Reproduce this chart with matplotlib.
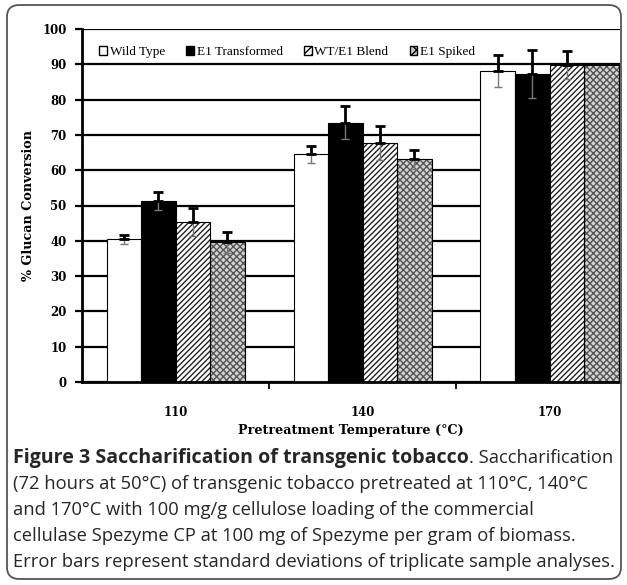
import matplotlib
matplotlib.use("Agg")
import matplotlib.pyplot as plt
import numpy as np
from matplotlib.patches import FancyBboxPatch, Rectangle

categories = ["110", "140", "170"]
series_names = ["Wild Type", "E1 Transformed", "WT/E1 Blend", "E1 Spiked"]
wild_type = [40.4, 64.5, 88.1]
e1_transformed = [51.3, 73.5, 87.3]
blend = [45.4, 67.6, 89.8]
spiked = [39.6, 63.1, 89.8]
wild_type_err = [1.3, 2.4, 4.4]
e1_transformed_err = [2.6, 4.8, 6.8]
blend_err = [3.9, 4.8, 4.1]
spiked_err = [3.0, 2.7, 0.0]
yticks = list(range(0, 101, 10))

values = [wild_type, e1_transformed, blend, spiked]
errors = [wild_type_err, e1_transformed_err, blend_err, spiked_err]

W, H = 627, 585
fig = plt.figure(figsize=(W / 100, H / 100), dpi=100)

# rounded frame
frame = FancyBboxPatch((7 / W, 6 / H), (621 - 7) / W, (580 - 6) / H,
                       boxstyle="round,pad=0,rounding_size=0.02",
                       transform=fig.transFigure, fill=False,
                       edgecolor="#555555", linewidth=1.3)
fig.patches.append(frame)

ax_l, ax_r, ax_t, ax_b = 82, 620, 29, 382
ax = fig.add_axes([ax_l / W, (H - ax_b) / H, (ax_r - ax_l) / W, (ax_b - ax_t) / H])
cat_w = 187.0
ax.set_xlim(-0.5, -0.5 + (ax_r - ax_l) / cat_w)
ax.set_ylim(0, 100)

serif = "Liberation Serif"
lab_font = "DejaVu Serif"
x = np.arange(len(categories))
bw = 34.5 / cat_w
offsets = [-1.5, -0.5, 0.5, 1.5]

for i, (vals, errs) in enumerate(zip(values, errors)):
    xs = x + offsets[i] * bw
    if i == 0:
        ax.bar(xs, vals, bw, color="white", edgecolor="black", linewidth=0.8, zorder=3)
    elif i == 1:
        ax.bar(xs, vals, bw, color="black", edgecolor="black", linewidth=0.8, zorder=3)
    elif i == 2:
        ax.bar(xs, vals, bw, color="white", edgecolor="#222222", linewidth=0,
               hatch="//////", zorder=3)
        ax.bar(xs, vals, bw, fill=False, edgecolor="black", linewidth=0.8, zorder=3.1)
    else:
        ax.bar(xs, vals, bw, color="#d4d4d4", edgecolor="#555555", linewidth=0,
               hatch="xxxxx", zorder=3)
        ax.bar(xs, vals, bw, fill=False, edgecolor="black", linewidth=0.8, zorder=3.1)
    for xi, v, e in zip(xs, vals, errs):
        if e > 0:
            ax.errorbar([xi], [v], yerr=[[e], [0]], fmt="none", ecolor="#777777",
                        elinewidth=1.0, capsize=3, capthick=1.0, zorder=4)
            ax.errorbar([xi], [v], yerr=[[0], [e]], fmt="none", ecolor="black",
                        elinewidth=2.0, capsize=3.5, capthick=2.0, zorder=4)

# grid
ax.set_yticks(yticks)
ax.yaxis.grid(True, color="black", linewidth=1.6, zorder=0)
ax.set_axisbelow(True)

for s in ["top", "right"]:
    ax.spines[s].set_visible(False)
for s in ["left", "bottom"]:
    ax.spines[s].set_linewidth(2)
    ax.spines[s].set_zorder(5)

ax.set_xticks([0.5, 1.5])
ax.set_xticklabels([])
ax.set_xticks(x, minor=True)
ax.set_xticklabels(categories, minor=True, fontfamily=lab_font, fontweight="bold", fontsize=8.5)
ax.tick_params(axis="x", which="major", length=5, width=1.3, direction="out")
ax.tick_params(axis="x", which="minor", length=0, pad=17)
ax.tick_params(axis="y", length=5, width=1.6, direction="out", pad=6)
for lbl in ax.get_yticklabels():
    lbl.set_fontfamily(lab_font)
    lbl.set_fontweight("bold")
    lbl.set_fontsize(8.5)

ax.set_xlabel("Pretreatment Temperature (°C)", fontfamily=lab_font, fontweight="bold",
              fontsize=9.2, labelpad=4)
ax.set_ylabel("% Glucan Conversion", fontfamily=lab_font, fontweight="bold",
              fontsize=9.2, labelpad=5)

# legend
handles = [
    Rectangle((0, 0), 1, 1, facecolor="white", edgecolor="black", linewidth=1),
    Rectangle((0, 0), 1, 1, facecolor="black", edgecolor="black", linewidth=1),
    Rectangle((0, 0), 1, 1, facecolor="white", edgecolor="black", linewidth=1, hatch="////"),
    Rectangle((0, 0), 1, 1, facecolor="#cccccc", edgecolor="black", linewidth=1, hatch="xxx"),
]
leg = ax.legend(handles, series_names, loc="upper left", ncol=4, frameon=False,
                bbox_to_anchor=(0.01, 0.985), handlelength=0.6, handleheight=0.6,
                handletextpad=0.2, columnspacing=1.6,
                prop={"family": serif, "size": 9.5})
leg.set_zorder(6)

# caption
cap_font = "Open Sans"
cap_size = 13.2
cap_bold_size = 14.1
cap_color = "#262626"
cap_x = 13 / W
lines_y = [463, 489, 515, 541, 567]
bold_part = "Figure 3 Saccharification of transgenic tobacco"
rest_first = ". Saccharification"
other_lines = [
    "(72 hours at 50\u00b0C) of transgenic tobacco pretreated at 110\u00b0C, 140\u00b0C",
    "and 170\u00b0C with 100 mg/g cellulose loading of the commercial",
    "cellulase Spezyme CP at 100 mg of Spezyme per gram of biomass.",
    "Error bars represent standard deviations of triplicate sample analyses.",
]
tb = fig.text(cap_x, 1 - lines_y[0] / H, bold_part, fontfamily=cap_font, fontweight="bold",
              fontsize=cap_bold_size, color=cap_color, va="baseline")
fig.canvas.draw()
bb = tb.get_window_extent()
fig.text(bb.x1 / W, 1 - lines_y[0] / H, rest_first, fontfamily=cap_font,
         fontsize=cap_size, color=cap_color, va="baseline")
for yy, txt in zip(lines_y[1:], other_lines):
    fig.text(cap_x, 1 - yy / H, txt, fontfamily=cap_font, fontsize=cap_size,
             color=cap_color, va="baseline")

fig.savefig("out.png", dpi=100)
